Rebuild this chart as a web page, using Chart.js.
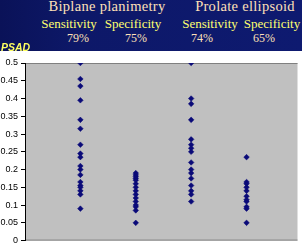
<!DOCTYPE html>
<html>
<head>
<meta charset="utf-8">
<script src="https://cdn.jsdelivr.net/npm/chart.js@4"></script>
<style>
  body { margin: 0; background: #fff; }
  #wrap { position: relative; width: 302px; height: 249px; overflow: hidden; }
  #banner {
    position: absolute; left: 0; top: 0; width: 302px; height: 51px;
    background: linear-gradient(90deg, #0a1258 0%, #0d1868 25%, #0e1a70 100%);
  }
  .t { position: absolute; white-space: nowrap; transform: translateX(-50%); }
  .method { font: 14.5px "Liberation Serif", serif; color: #ffe0b8; top: -1px; line-height: 15px; letter-spacing: 0.3px; }
  .measure { font: 13px "Liberation Serif", serif; color: #ffff70; top: 17px; line-height: 13px; }
  .pct { font: 12px "Liberation Serif", serif; color: #ffe0b8; top: 31.5px; line-height: 12px; }
  #psad { position: absolute; left: 1px; top: 41px; line-height: 10px; font: italic bold 10.5px "Liberation Sans", Arial, sans-serif; color: #ffff60; }
  #board { position: absolute; left: 0; top: 0; }
</style>
</head>
<body>
<div id="wrap">
  <canvas id="board" width="302" height="249"></canvas>
  <div id="banner"></div>
</div>
<script>
// header text
const methods = ["Biplane planimetry", "Prolate ellipsoid"];
const measures = ["Sensitivity", "Specificity", "Sensitivity", "Specificity"];
const percents = ["79%", "75%", "74%", "65%"];
const yTitle = "PSAD";

// column positions on the x scale
const columns = [1, 2, 3, 4];

// PSAD values, one array per column
const biplaneSens = [0.5, 0.455, 0.435, 0.395, 0.34, 0.315, 0.27, 0.245, 0.235, 0.21, 0.2, 0.185, 0.165, 0.155, 0.15, 0.14, 0.13, 0.09];
const biplaneSpec = [0.19, 0.185, 0.18, 0.175, 0.17, 0.16, 0.15, 0.14, 0.13, 0.12, 0.11, 0.1, 0.095, 0.085, 0.05];
const prolateSens = [0.5, 0.4, 0.385, 0.34, 0.285, 0.27, 0.26, 0.25, 0.22, 0.2, 0.19, 0.175, 0.155, 0.14, 0.13, 0.11];
const prolateSpec = [0.235, 0.165, 0.16, 0.15, 0.14, 0.125, 0.115, 0.11, 0.095, 0.09, 0.05];

const yTicks = [0, 0.05, 0.1, 0.15, 0.2, 0.25, 0.3, 0.35, 0.4, 0.45, 0.5];

function getById(id) {
    return document.getElementById(id);
}

// build the header over the chart
function makeBanner() {
    const banner = getById("banner");
    const methodX = [107, 245];
    const measureX = [69, 133, 210, 272];
    const pctX = [78, 136, 202, 264];
    methods.forEach((m, i) => {
        const d = document.createElement("div");
        d.className = "t method";
        d.style.left = methodX[i] + "px";
        d.textContent = m;
        banner.appendChild(d);
    });
    measures.forEach((m, i) => {
        const d = document.createElement("div");
        d.className = "t measure";
        d.style.left = measureX[i] + "px";
        d.textContent = m;
        banner.appendChild(d);
    });
    percents.forEach((p, i) => {
        const d = document.createElement("div");
        d.className = "t pct";
        d.style.left = pctX[i] + "px";
        d.textContent = p;
        banner.appendChild(d);
    });
    const ps = document.createElement("div");
    ps.id = "psad";
    ps.textContent = yTitle;
    banner.appendChild(ps);
}

// grey plot background with the top and bottom grey lines
const plotBack = {
    id: "plotBack",
    beforeDraw(chart) {
        const { ctx, chartArea: a } = chart;
        ctx.save();
        ctx.fillStyle = "#c0c0c0";
        ctx.fillRect(a.left, a.top, a.right - a.left, a.bottom - a.top);
        ctx.strokeStyle = "#808080";
        ctx.lineWidth = 1;
        ctx.beginPath();
        ctx.moveTo(a.left, a.top + 0.5);
        ctx.lineTo(a.right, a.top + 0.5);
        ctx.moveTo(a.left, a.bottom - 0.5);
        ctx.lineTo(a.right, a.bottom - 0.5);
        ctx.stroke();
        ctx.restore();
    }
};

function column(x, values) {
    return values.map(v => ({ x: x, y: v }));
}

function makeChart() {
    const series = [biplaneSens, biplaneSpec, prolateSens, prolateSpec];
    const datasets = series.map((vals, i) => ({
        label: measures[i],
        data: column(columns[i], vals),
        backgroundColor: "#0a0a78",
        borderColor: "#0a0a78",
        borderWidth: 0.5,
        pointStyle: "rectRot",
        pointRadius: 2.8
    }));

    new Chart(getById("board").getContext("2d"), {
        type: "scatter",
        data: { datasets: datasets },
        options: {
            responsive: false,
            animation: false,
            events: [],
            layout: { padding: { top: 63, bottom: 5, left: 0, right: 0 } },
            plugins: { legend: { display: false }, tooltip: { enabled: false } },
            scales: {
                x: { type: "linear", min: 0, max: 4.92, display: false },
                y: {
                    type: "linear",
                    min: 0,
                    max: 0.5,
                    afterBuildTicks: s => { s.ticks = yTicks.map(v => ({ value: v })); },
                    afterFit: s => { s.width = 25; },
                    border: { display: true, color: "#000", width: 1 },
                    grid: { display: true, drawOnChartArea: false, drawTicks: true, tickLength: 4, color: "#000" },
                    ticks: {
                        padding: 3,
                        color: "#000",
                        font: { family: "'Liberation Sans', Arial", size: 9 },
                        callback: v => String(Number(v.toFixed(2)))
                    }
                }
            }
        },
        plugins: [plotBack]
    });
}

makeBanner();
makeChart();
</script>
</body>
</html>
